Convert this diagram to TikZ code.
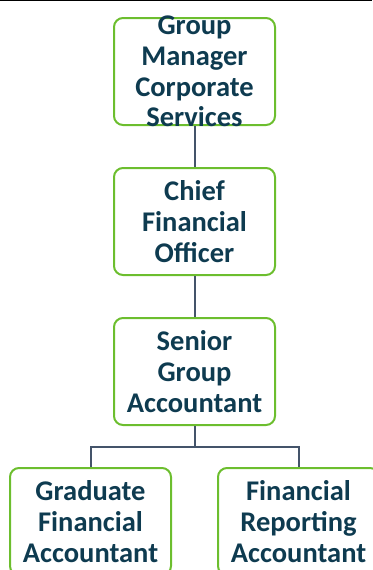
\documentclass[tikz,border=0pt]{standalone}
\usepackage{fontspec}
\setmainfont{Carlito}
\usetikzlibrary{positioning}

\definecolor{boxgreen}{HTML}{6CBE2E}
\definecolor{textteal}{HTML}{0E3B50}
\definecolor{linegray}{HTML}{44546A}

\tikzset{
    post/.style={draw=boxgreen, line width=2pt, rounded corners=9pt,
        minimum width=161pt, minimum height=107pt, inner sep=0pt},
    title/.style={text=textteal, align=center, inner sep=0pt,
        font=\fontsize{28.5}{30.7}\selectfont\bfseries},
    conn/.style={draw=linegray, line width=2pt}
}

\begin{document}
\begin{tikzpicture}[x=1pt, y=-1pt]

    \useasboundingbox (0,0) rectangle (372,570);

    % 1. Đường kẻ trên cùng
    \draw[black, line width=1.4pt] (0,0.7) -- (372,0.7);

    % 2. Các ô chức danh
    \node[post, label={[title]center:Group\\Manager\\Corporate\\Services}] (gm) at (194.5,71.5) {};
    \node[post, label={[title]center:Chief\\Financial\\Officer}, below=41pt of gm] (cfo) {};
    \node[post, label={[title]center:Senior\\Group\\Accountant}, below=41pt of cfo] (sga) {};

    % Hàng dưới cùng
    \node[post, label={[title]center:Graduate\\Financial\\Accountant}, below=41pt of sga, xshift=-104pt] (gfa) {};
    \node[post, label={[title]center:Financial\\Reporting\\Accountant}, below=41pt of sga, xshift=104pt] (fra) {};

    % 3. Đường nối
    \draw[conn] (gm) -- (cfo);
    \draw[conn] (cfo) -- (sga);
    \draw[conn] (sga.south) -- ++(0,20.5) coordinate (split);
    \draw[conn] (gfa.north) |- (split) -| (fra.north);

\end{tikzpicture}
\end{document}
